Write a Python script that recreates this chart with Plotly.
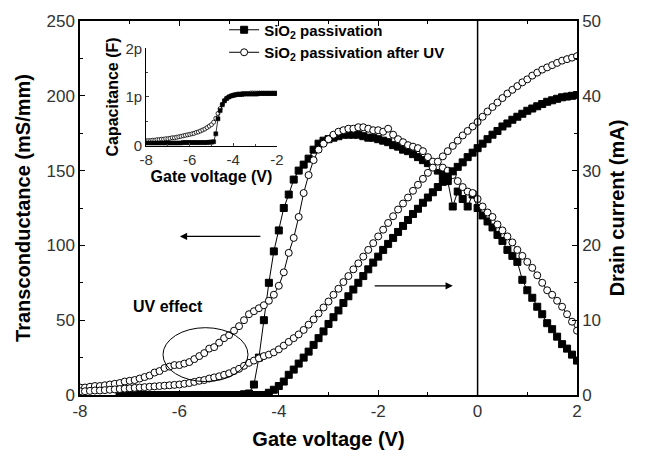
import plotly.graph_objects as go

# Gate voltage sweep (V), main plot
vg = [-8.0, -7.9, -7.8, -7.7, -7.6, -7.5, -7.4, -7.3, -7.2, -7.1,
      -7.0, -6.9, -6.8, -6.7, -6.6, -6.5, -6.4, -6.3, -6.2, -6.1,
      -6.0, -5.9, -5.8, -5.7, -5.6, -5.5, -5.4, -5.3, -5.2, -5.1,
      -5.0, -4.9, -4.8, -4.7, -4.6, -4.5, -4.4, -4.3, -4.2, -4.1,
      -4.0, -3.9, -3.8, -3.7, -3.6, -3.5, -3.4, -3.3, -3.2, -3.1,
      -3.0, -2.9, -2.8, -2.7, -2.6, -2.5, -2.4, -2.3, -2.2, -2.1,
      -2.0, -1.9, -1.8, -1.7, -1.6, -1.5, -1.4, -1.3, -1.2, -1.1,
      -1.0, -0.9, -0.8, -0.7, -0.6, -0.5, -0.4, -0.3, -0.2, -0.1,
      0.0, 0.1, 0.2, 0.3, 0.4, 0.5, 0.6, 0.7, 0.8, 0.9,
      1.0, 1.1, 1.2, 1.3, 1.4, 1.5, 1.6, 1.7, 1.8, 1.9, 2.0]

# Transconductance (mS/mm), SiO2 passivation (filled squares)
gm_pass = [None, None, None, None, None, None, None, None, 0, 0,
           0, 0, 0, 0, 0, 0, 0, 0, 0, 0,
           0, 0, 0, 0, 0, 0, 0, 0, 0, 0,
           0, 0, 0, 0.5, 1, 7, 25, 50, 75, 96,
           110, 125, 134, 144, 150, 154, 158, 164, 168, 170,
           171, 172, 173, 174, 174, 174, 174, 173, 172, 172,
           171, 170, 169, 167, 166, 164, 163, 161, 159, 157,
           155, 153, 150, 147, 143, 126, 136, 131, 126, 134,
           125, 120, 116, 112, 107, 103, 97, 93, 89, 77,
           70, 65, 59, 54, 48, 44, 39, 34, 31, 27, 23]

# Transconductance (mS/mm), SiO2 passivation after UV (open circles)
gm_uv = [5, 5, 5.5, 6, 6, 6.5, 7, 7.5, 8, 9,
         9.5, 10, 11, 12, 13, 15, 16, 18, 19, 20,
         20, 21, 22, 24, 26, 28, 31, 32, 35, 38,
         40, 43, 46, 50, 54, 56, 58, 60, 63, 67,
         73, 82, 95, 105, 119, 135, 147, 157, 164, 168,
         171, 174, 176, 177, 178, 178, 179, 179, 178, 177,
         177, 176, 178, 174, 171, 169, 167, 166, 165, 163,
         159, 156, 153, 152, 150, 147, 143, 139, 136, 135,
         131, 126, 122, 119, 114, 110, 106, 102, 97, 93,
         89, 85, 80, 75, 70, 67, 63, 59, 54, 49, 43]

# Drain current (mA), SiO2 passivation (filled squares)
id_pass = [None, None, None, None, None, None, None, None, 0, 0,
           0, 0, 0, 0, 0, 0, 0, 0, 0, 0,
           0, 0, 0, 0, 0, 0, 0, 0, 0, 0,
           0, 0, 0, 0, 0, 0, 0, 0, 0.3, 0.7,
           1.2, 1.8, 2.7, 3.4, 4.2, 5.0, 5.8, 6.7, 7.6, 8.5,
           9.5, 10.4, 11.3, 12.3, 13.2, 14.1, 15.0, 15.9, 16.8, 17.7,
           18.5, 19.4, 20.2, 21.0, 21.8, 22.6, 23.4, 24.2, 24.9, 25.7,
           26.4, 27.1, 27.8, 28.5, 29.2, 29.9, 30.5, 31.1, 31.8, 32.4,
           33.0, 33.6, 34.2, 34.8, 35.3, 35.9, 36.3, 36.8, 37.2, 37.6,
           38.0, 38.3, 38.6, 38.9, 39.2, 39.4, 39.6, 39.8, 39.9, 40.0, 40.1]

# Drain current (mA), SiO2 passivation after UV (open circles)
id_uv = [0.5, 0.5, 0.55, 0.6, 0.6, 0.65, 0.7, 0.75, 0.8, 0.85,
         0.9, 0.95, 1.0, 1.05, 1.1, 1.15, 1.2, 1.25, 1.3, 1.35,
         1.4, 1.5, 1.6, 1.75, 1.9, 2.0, 2.2, 2.35, 2.5, 2.7,
         2.9, 3.2, 3.5, 3.9, 4.3, 4.6, 4.9, 5.2, 5.4, 5.7,
         6.1, 6.6, 7.1, 7.6, 8.1, 8.7, 9.4, 10.1, 10.9, 11.7,
         12.5, 13.4, 14.2, 15.1, 15.9, 16.8, 17.6, 18.5, 19.4, 20.3,
         21.2, 22.1, 23.0, 23.9, 24.8, 25.6, 26.4, 27.3, 28.1, 28.9,
         29.7, 30.4, 31.2, 31.9, 32.6, 33.3, 34.0, 34.7, 35.3, 35.9,
         36.5, 37.2, 37.9, 38.5, 39.1, 39.7, 40.3, 40.8, 41.3, 41.8,
         42.2, 42.7, 43.1, 43.5, 43.8, 44.1, 44.4, 44.7, 44.9, 45.1, 45.3]

# Inset: capacitance (pF) vs gate voltage
vg_c = [-8.0, -7.9, -7.8, -7.7, -7.6, -7.5, -7.4, -7.3, -7.2, -7.1,
        -7.0, -6.9, -6.8, -6.7, -6.6, -6.5, -6.4, -6.3, -6.2, -6.1,
        -6.0, -5.9, -5.8, -5.7, -5.6, -5.5, -5.4, -5.3, -5.2, -5.1,
        -5.0, -4.9, -4.8, -4.7, -4.6, -4.5, -4.4, -4.3, -4.2, -4.1,
        -4.0, -3.9, -3.8, -3.7, -3.6, -3.5, -3.4, -3.3, -3.2, -3.1,
        -3.0, -2.9, -2.8, -2.7, -2.6, -2.5, -2.4, -2.3, -2.2, -2.1, -2.0]
c_pass = [0.05, 0.05, 0.05, 0.05, 0.05, 0.05, 0.05, 0.05, 0.05, 0.05,
          0.05, 0.05, 0.05, 0.05, 0.05, 0.05, 0.05, 0.06, 0.06, 0.06,
          0.06, 0.06, 0.06, 0.06, 0.06, 0.06, 0.06, 0.06, 0.06, 0.07,
          0.07, 0.08, 0.24, 0.55, 0.72, 0.84, 0.92, 0.97, 1.00, 1.02,
          1.03, 1.04, 1.05, 1.05, 1.05, 1.06, 1.06, 1.06, 1.06, 1.06,
          1.06, 1.06, 1.07, 1.07, 1.07, 1.07, 1.07, 1.07, 1.07, 1.07, 1.07]
c_uv = [0.10, 0.10, 0.10, 0.11, 0.11, 0.12, 0.12, 0.13, 0.13, 0.14,
        0.14, 0.15, 0.16, 0.16, 0.17, 0.18, 0.19, 0.20, 0.21, 0.22,
        0.23, 0.24, 0.25, 0.27, 0.28, 0.30, 0.32, 0.34, 0.37, 0.40,
        0.43, 0.48, 0.56, 0.66, 0.76, 0.85, 0.92, 0.97, 1.00, 1.02,
        1.04, 1.05, 1.06, 1.06, 1.07, 1.07, 1.07, 1.07, 1.08, 1.08,
        1.08, 1.08, 1.08, 1.08, 1.08, 1.08, 1.08, 1.08, 1.08, 1.08, 1.08]

legend_names = ["SiO<sub>2</sub> passivation", "SiO<sub>2</sub> passivation after UV"]
x_ticks = [-8, -6, -4, -2, 0, 2]
x_ticklabels = ["-8", "-6", "-4", "-2", "0", "2"]
inset_x_ticks = [-8, -6, -4, -2]
inset_x_ticklabels = ["-8", "-6", "-4", "-2"]
inset_y_ticks = [0, 1, 2]
inset_y_ticklabels = ["0", "1p", "2p"]

FONT = "Liberation Sans, Arial, sans-serif"
sq = dict(symbol="square", size=7, color="black", line=dict(color="black", width=1))
ci = dict(symbol="circle", size=7, color="white", line=dict(color="black", width=1))
sq_s = dict(symbol="square", size=4, color="black", line=dict(color="black", width=0.5))
ci_s = dict(symbol="circle", size=4, color="white", line=dict(color="black", width=0.8))

fig = go.Figure()
fig.add_trace(go.Scatter(x=vg, y=id_pass, mode="lines+markers", marker=sq,
                         line=dict(color="black", width=1), yaxis="y2", showlegend=False))
fig.add_trace(go.Scatter(x=vg, y=id_uv, mode="lines+markers", marker=ci,
                         line=dict(color="black", width=1), yaxis="y2", showlegend=False))
fig.add_trace(go.Scatter(x=vg, y=gm_pass, mode="lines+markers", marker=sq,
                         line=dict(color="black", width=1), name=legend_names[0]))
fig.add_trace(go.Scatter(x=vg, y=gm_uv, mode="lines+markers", marker=ci,
                         line=dict(color="black", width=1), name=legend_names[1]))
fig.add_trace(go.Scatter(x=vg_c, y=c_uv, mode="lines+markers", marker=ci_s,
                         line=dict(color="black", width=0.8), xaxis="x3", yaxis="y3", showlegend=False))
fig.add_trace(go.Scatter(x=vg_c, y=c_pass, mode="lines+markers", marker=sq_s,
                         line=dict(color="black", width=0.8), xaxis="x3", yaxis="y3", showlegend=False))

tickfont = dict(family=FONT, size=17, color="#333333")
titlefont = dict(family=FONT, size=20, color="black", weight="bold")

fig.update_layout(
    width=646, height=459,
    margin=dict(l=80, r=69, t=12, b=63),
    paper_bgcolor="white", plot_bgcolor="white",
    font=dict(family=FONT, color="black"),
    xaxis=dict(range=[-8, 2], tickvals=x_ticks, ticktext=x_ticklabels, showline=True,
               linecolor="black", linewidth=1.5,
               mirror="ticks", ticks="inside", ticklen=5, tickcolor="black",
               minor=dict(dtick=1, tick0=-8, ticks="inside", ticklen=3, tickcolor="black"),
               showgrid=False, zeroline=False, tickfont=tickfont,
               title=dict(text="Gate voltage (V)", font=titlefont, standoff=12)),
    yaxis=dict(range=[0, 250], dtick=50, showline=True, linecolor="black", linewidth=1.5,
               ticks="inside", ticklen=5, tickcolor="black",
               minor=dict(dtick=25, ticks="inside", ticklen=3, tickcolor="black"),
               showgrid=False, zeroline=False, tickfont=tickfont,
               title=dict(text="Transconductance (mS/mm)", font=titlefont, standoff=10)),
    yaxis2=dict(range=[0, 50], dtick=10, overlaying="y", side="right", showline=True,
                linecolor="black", linewidth=1.5, ticks="inside", ticklen=5, tickcolor="black",
                minor=dict(dtick=5, ticks="inside", ticklen=3, tickcolor="black"),
                showgrid=False, zeroline=False, tickfont=tickfont,
                title=dict(text="Drain current (mA)", font=titlefont, standoff=10)),
    xaxis3=dict(domain=[0.133, 0.396], anchor="y3", range=[-8, -2],
                tickvals=inset_x_ticks, ticktext=inset_x_ticklabels,
                showline=True, linecolor="black", linewidth=1, ticks="inside", ticklen=3,
                minor=dict(dtick=1, tick0=-8, ticks="inside", ticklen=2),
                showgrid=False, zeroline=False,
                tickfont=dict(family=FONT, size=15, color="#333333"),
                title=dict(text="Gate voltage (V)", font=dict(family=FONT, size=16, weight="bold"), standoff=1)),
    yaxis3=dict(domain=[0.667, 0.927], anchor="x3", range=[0, 2],
                tickvals=inset_y_ticks, ticktext=inset_y_ticklabels,
                showline=True, linecolor="black", linewidth=1, ticks="inside", ticklen=3,
                minor=dict(dtick=0.5, ticks="inside", ticklen=2),
                showgrid=False, zeroline=False,
                tickfont=dict(family=FONT, size=15, color="#333333"),
                title=dict(text="Capacitance (F)", font=dict(family=FONT, size=16, weight="bold"), standoff=2)),
    legend=dict(x=0.29, y=1.02, xanchor="left", yanchor="top", bgcolor="rgba(0,0,0,0)",
                font=dict(family=FONT, size=15, color="black", weight="bold"),
                tracegroupgap=0, itemwidth=30),
    shapes=[
        dict(type="line", xref="x", yref="y", x0=0, x1=0, y0=0, y1=250,
             line=dict(color="black", width=1.5)),
        dict(type="circle", xref="x", yref="y", x0=-6.33, x1=-4.62, y0=9, y1=45,
             line=dict(color="black", width=1)),
    ],
    annotations=[
        dict(x=-5.99, y=106, ax=-4.34, ay=106, xref="x", yref="y", axref="x", ayref="y",
             showarrow=True, arrowhead=2, arrowsize=1.2, arrowwidth=1.2, arrowcolor="black", text=""),
        dict(x=-0.5, y=73, ax=-2.1, ay=73, xref="x", yref="y", axref="x", ayref="y",
             showarrow=True, arrowhead=2, arrowsize=1.2, arrowwidth=1.2, arrowcolor="black", text=""),
        dict(x=-6.23, y=59, xref="x", yref="y", showarrow=False, text="UV effect",
             font=dict(family=FONT, size=16, color="black", weight="bold")),
    ],
)

fig.write_html("out.html")
